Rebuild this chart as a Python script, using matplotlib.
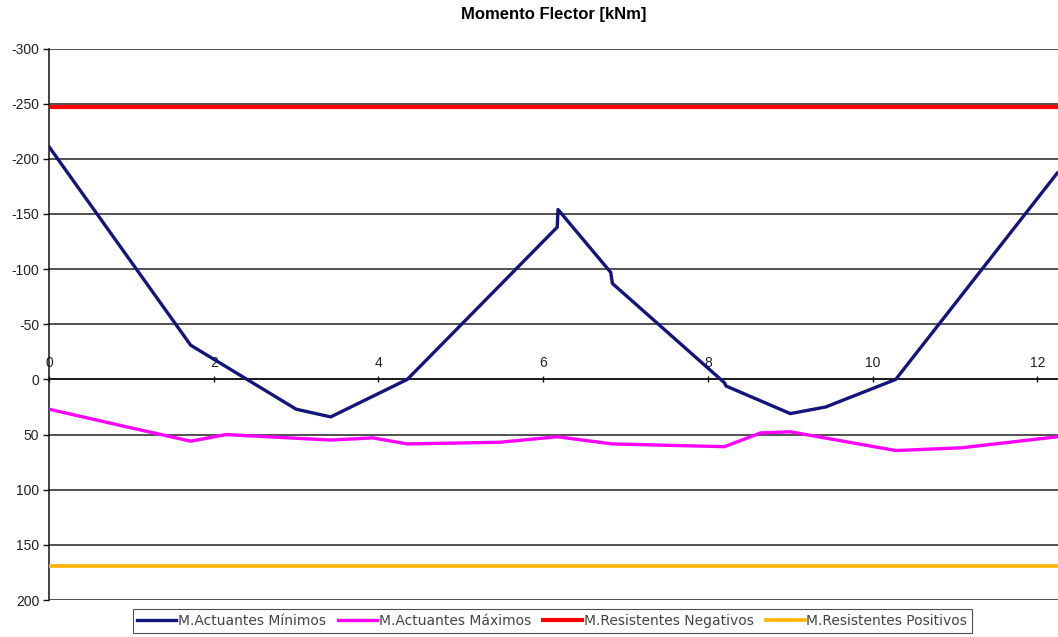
import matplotlib
matplotlib.use("Agg")
import matplotlib.pyplot as plt

plt.rcParams["axes.unicode_minus"] = False

# ---- data ----
x_min = [0, 1.72, 3.0, 3.42, 4.35, 6.17, 6.18, 6.82, 6.84, 8.20, 8.22, 9.0, 9.43, 10.28, 12.24]
m_min = [-211, -31, 27, 34, 0, -138, -154, -97, -87, 3, 6, 31, 25, 0, -187]

x_max = [0, 0.94, 1.72, 2.15, 3.42, 3.93, 4.35, 5.47, 6.17, 6.84, 8.20, 8.64, 9.0, 10.28, 11.08, 12.24]
m_max = [27, 43, 56, 50, 55, 53, 58.5, 57, 52, 58.5, 61, 48.5, 47.5, 64.5, 62, 52]

res_neg = -247
res_pos = 169

x_range = [0, 12.25]
y_ticks = [-300, -250, -200, -150, -100, -50, 0, 50, 100, 150, 200]
x_ticks = [0, 2, 4, 6, 8, 10, 12]

labels = ["M.Actuantes Mínimos", "M.Actuantes Máximos",
          "M.Resistentes Negativos", "M.Resistentes Positivos"]

# ---- figure ----
fig = plt.figure(figsize=(10.58, 6.37), dpi=100)
ax = fig.add_axes([49 / 1058, 1 - 600 / 637, 1 - 49 / 1058, (600 - 48.5) / 637])

for y in y_ticks:
    ax.axhline(y, color="#222222", lw=1.1, zorder=1)

ax.plot(x_min, m_min, color="#14147a", lw=2.4, label=labels[0], zorder=4)
ax.plot(x_max, m_max, color="#ff00ff", lw=2.4, label=labels[1], zorder=3)
ax.plot(x_range, [res_neg, res_neg], color="#ff0000", lw=3.0, label=labels[2], zorder=3)
ax.plot(x_range, [res_pos, res_pos], color="#ffb300", lw=2.6, label=labels[3], zorder=3)

ax.set_xlim(x_range)
ax.set_ylim(200, -300)
ax.set_yticks(y_ticks)
ax.set_xticks(x_ticks)

for s in ["bottom", "right"]:
    ax.spines[s].set_visible(False)
ax.spines["left"].set_color("#111111")
ax.spines["left"].set_linewidth(1.1)
ax.spines["top"].set_position(("data", 0))
ax.spines["top"].set_color("#111111")
ax.spines["top"].set_linewidth(1.1)
ax.xaxis.set_ticks_position("top")
ax.xaxis.set_label_position("top")
ax.tick_params(axis="x", direction="inout", length=5, width=1, colors="#111111",
               labelsize=10, pad=4, labelcolor="#222222")
ax.tick_params(axis="y", direction="out", length=4, width=1, colors="#111111",
               labelsize=10, pad=3, labelcolor="#222222")
for t in ax.get_xticklabels() + ax.get_yticklabels():
    t.set_fontfamily("Liberation Sans")

fig.text(0.523, 1 - 15 / 637, "Momento Flector [kNm]", ha="center", va="center",
         fontsize=12, fontweight="bold", family="Liberation Sans")

leg = fig.legend(loc="center", bbox_to_anchor=(0.522, 1 - 621 / 637), ncol=4,
                 frameon=True, fancybox=False, edgecolor="#222222",
                 handlelength=2.8, handletextpad=0.1, columnspacing=0.9,
                 borderpad=0.35, labelcolor="#444444",
                 prop={"family": "DejaVu Sans", "size": 10})
leg.get_frame().set_linewidth(0.8)

fig.savefig("out.png", dpi=100, facecolor="white")
